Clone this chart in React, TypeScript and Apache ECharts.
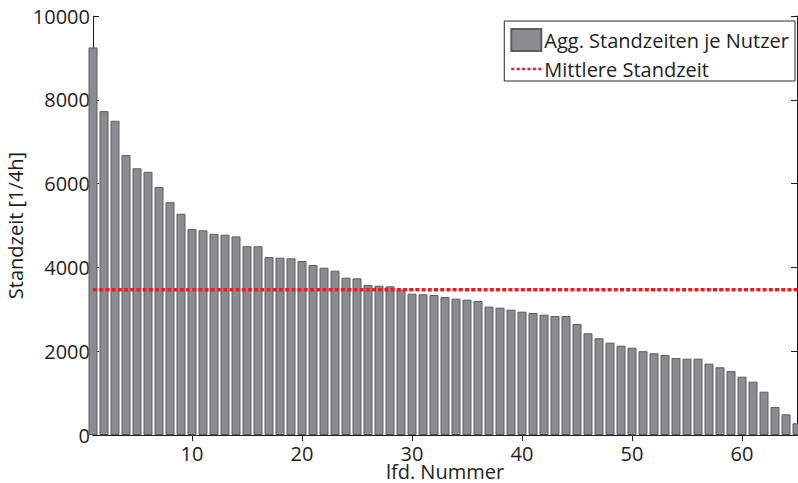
import React, { useEffect, useRef } from "react";
import * as echarts from "echarts";

const userNumbers: number[] = Array.from({ length: 65 }, (_, i) => i + 1);
const standzeiten: number[] = [
  9250, 7730, 7500, 6680, 6365, 6280, 5920, 5555, 5280, 4915,
  4885, 4800, 4780, 4740, 4505, 4505, 4245, 4232, 4217, 4153,
  4057, 3993, 3922, 3754, 3739, 3580, 3563, 3548, 3468, 3372,
  3358, 3341, 3294, 3254, 3230, 3198, 3063, 3039, 2991, 2943,
  2912, 2871, 2840, 2840, 2649, 2427, 2308, 2203, 2131, 2084,
  2000, 1950, 1909, 1838, 1821, 1821, 1702, 1616, 1527, 1392,
  1272, 1033, 668, 494, 280,
];
const meanValue = 3468;
const xTickValues: number[] = [10, 20, 30, 40, 50, 60];
const barName = "Agg. Standzeiten je Nutzer";
const meanName = "Mittlere Standzeit";

const FONT = "'Open Sans', 'Noto Sans', sans-serif";
const TEXT = "#1e1e1e";
const AXIS = "#1a1a1a";
const DOTS_ICON =
  "path://M0,0h3v2.4h-3z M5.4,0h3v2.4h-3z M10.8,0h3v2.4h-3z M16.2,0h3v2.4h-3z M21.6,0h3v2.4h-3z M27,0h3v2.4h-3z";

export default function App() {
  const ref = useRef<HTMLDivElement>(null);
  useEffect(() => {
    if (!ref.current) return;
    const chart = echarts.init(ref.current, null, { renderer: "svg" });
    const axisLine = { show: true, lineStyle: { color: AXIS, width: 1 } };
    const tickStyle = { lineStyle: { color: AXIS, width: 1 } };
    chart.setOption({
      animation: false,
      backgroundColor: "#ffffff",
      grid: {
        left: 93,
        top: 16,
        width: 704,
        height: 419,
        containLabel: false,
        outerBoundsMode: "none",
      },
      legend: {
        orient: "vertical",
        right: 3,
        top: 21,
        padding: [7, 6, 2, 6],
        itemWidth: 30,
        itemHeight: 22,
        itemGap: 7,
        backgroundColor: "#ffffff",
        borderColor: "#2a2a2a",
        borderWidth: 1,
        borderRadius: 0,
        textStyle: { fontFamily: FONT, fontSize: 20, color: TEXT, padding: [0, 0, 0, -2] },
        data: [
          { name: barName, icon: "rect" },
          { name: meanName, icon: DOTS_ICON, itemStyle: { color: "#ed1c24", borderWidth: 0 } },
        ],
      },
      xAxis: [
        {
          type: "value",
          position: "bottom",
          min: 1,
          max: 65,
          axisLine,
          axisTick: { show: true, inside: true, length: 6, customValues: xTickValues, ...tickStyle },
          axisLabel: {
            customValues: xTickValues,
            fontFamily: FONT,
            fontSize: 20,
            color: TEXT,
            margin: 8,
          },
          splitLine: { show: false },
          name: "lfd. Nummer",
          nameLocation: "middle",
          nameGap: 26,
          nameMoveOverlap: false,
          nameTextStyle: { fontFamily: FONT, fontSize: 20, color: TEXT },
        },
        {
          type: "value",
          position: "top",
          min: 1,
          max: 65,
          axisLine,
          axisTick: { show: true, inside: true, length: 6, customValues: xTickValues, ...tickStyle },
          axisLabel: { show: false },
          splitLine: { show: false },
        },
      ],
      yAxis: [
        {
          type: "value",
          position: "left",
          min: 0,
          max: 10000,
          interval: 2000,
          axisLine,
          axisTick: { show: true, inside: true, length: 6, ...tickStyle },
          axisLabel: {
            fontFamily: FONT,
            fontSize: 20,
            color: TEXT,
            margin: 3,
            padding: [9, 0, 0, 0],
            formatter: (v: number) => String(v),
          },
          splitLine: { show: false },
          name: "Standzeit [1/4h]",
          nameLocation: "middle",
          nameGap: 68,
          nameMoveOverlap: false,
          nameTextStyle: { fontFamily: FONT, fontSize: 20, color: TEXT },
        },
        {
          type: "value",
          position: "right",
          min: 0,
          max: 10000,
          interval: 2000,
          axisLine,
          axisTick: { show: true, inside: true, length: 6, ...tickStyle },
          axisLabel: { show: false },
          splitLine: { show: false },
        },
      ],
      series: [
        {
          name: barName,
          type: "bar",
          xAxisIndex: 0,
          yAxisIndex: 0,
          barWidth: 9,
          itemStyle: { color: "#8b8c90", borderColor: "#5c5d61", borderWidth: 1 },
          data: userNumbers.map((n, i) => [n, standzeiten[i]]),
          z: 2,
        },
        {
          name: meanName,
          type: "line",
          xAxisIndex: 0,
          yAxisIndex: 0,
          symbol: "none",
          lineStyle: { color: "#ed1c24", width: 3.5, type: [4, 2.2] },
          itemStyle: { color: "#ed1c24" },
          data: [
            [userNumbers[0], meanValue],
            [userNumbers[userNumbers.length - 1], meanValue],
          ],
          z: 3,
        },
      ],
    });
    return () => chart.dispose();
  }, []);
  return (
    <div
      ref={ref}
      style={{ position: "fixed", left: 0, top: 0, width: 798, height: 483, background: "#fff" }}
    />
  );
}
